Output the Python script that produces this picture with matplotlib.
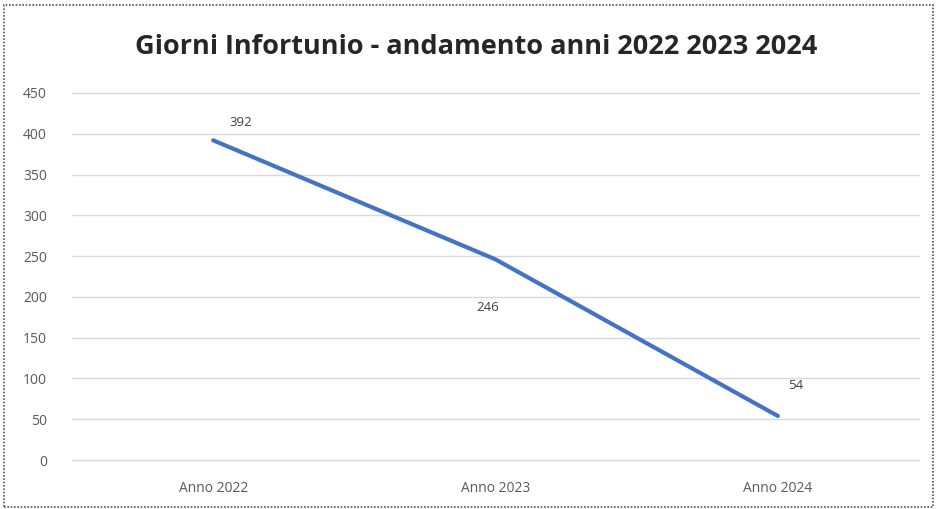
import matplotlib
matplotlib.use("Agg")
import matplotlib.pyplot as plt
from matplotlib.patches import Rectangle

categories = ["Anno 2022", "Anno 2023", "Anno 2024"]
giorni = [392, 246, 54]
y_ticks = [0, 50, 100, 150, 200, 250, 300, 350, 400, 450]

plt.rcParams["font.family"] = ["Open Sans", "DejaVu Sans"]

fig = plt.figure(figsize=(9.37, 5.09), dpi=100)
ax = fig.add_axes([72 / 937, 49 / 509, (919 - 72) / 937, (416 - 49) / 509])

x = list(range(len(categories)))
ax.plot(x, giorni, color="#4472C4", linewidth=3.0, solid_capstyle="round")

# value labels, placed like spreadsheet defaults
offsets = [(28, 18), (-8, -48), (18, 30)]
for xi, v, (dx, dy) in zip(x, giorni, offsets):
    ax.annotate(str(v), (xi, v), xytext=(dx, dy), textcoords="offset pixels",
                ha="center", va="center", fontsize=9.5, color="#404040")

ax.set_xlim(-0.5, 2.5)
ax.set_ylim(0, 450)
ax.set_yticks(y_ticks)
ax.set_xticks(x)
ax.set_xticklabels(categories)
ax.grid(axis="y", color="#d9d9d9", linewidth=1)
for gl in ax.get_ygridlines():
    gl.set_clip_on(False)
ax.set_axisbelow(True)
for s in ax.spines.values():
    s.set_visible(False)
ax.tick_params(axis="both", length=0, labelsize=10, labelcolor="#595959")
ax.tick_params(axis="x", pad=15)
ax.tick_params(axis="y", pad=18)

fig.text(476 / 937, 1 - 47 / 509, "Giorni Infortunio - andamento anni 2022 2023 2024",
         ha="center", va="center", fontsize=19.5, fontweight="bold", color="#262626")

fig.patches.append(Rectangle((0.004, 0.004), 0.992, 0.986, transform=fig.transFigure,
                             fill=False, edgecolor="#555555", linewidth=1.2,
                             linestyle=(0, (1, 1))))

fig.savefig("out.png", dpi=100)
